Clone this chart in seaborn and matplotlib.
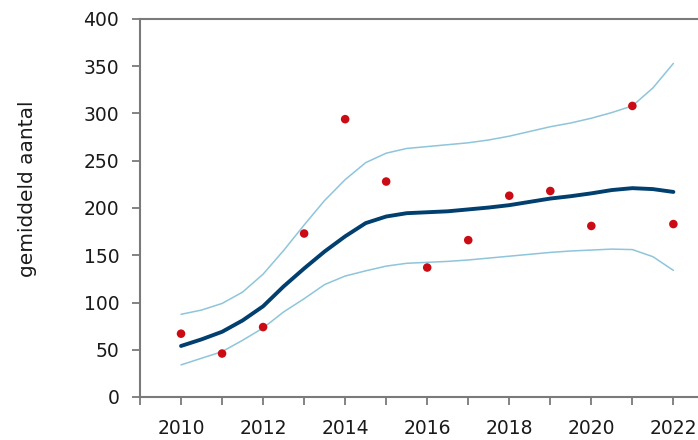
import matplotlib
matplotlib.use("Agg")
import matplotlib.pyplot as plt
import seaborn as sns
import pandas as pd

# observed yearly values (red dots)
years = [2010, 2011, 2012, 2013, 2014, 2015, 2016, 2017, 2018, 2019, 2020, 2021, 2022]
observed = [67, 46, 74, 173, 294, 228, 137, 166, 213, 218, 181, 308, 183]

# trend curve and confidence band, every half year
trend_years = [2010, 2010.5, 2011, 2011.5, 2012, 2012.5, 2013, 2013.5, 2014, 2014.5,
               2015, 2015.5, 2016, 2016.5, 2017, 2017.5, 2018, 2018.5, 2019, 2019.5,
               2020, 2020.5, 2021, 2021.5, 2022]
trend = [54, 61, 69, 81, 96, 117, 136, 154, 170, 184,
         191, 194.5, 195.5, 196.5, 198.5, 200.5, 203, 206.5, 210, 212.5,
         215.5, 219, 221, 220, 217]
upper = [87.5, 92, 99, 111, 130, 155, 182, 208, 230, 248,
         258, 263, 265, 267, 269, 272, 276, 281, 286, 290,
         295, 301, 308, 327, 353]
lower = [34, 41, 48, 60, 73, 90, 104, 119, 128, 133.5,
         138.5, 141.5, 142.5, 143.5, 145, 147, 149, 151, 153, 154.5,
         155.5, 156.5, 156, 148.5, 134]

x_ticks = list(range(2009, 2024))
x_labels = ["" if y % 2 else str(y) for y in x_ticks]
y_ticks = [0, 50, 100, 150, 200, 250, 300, 350, 400]
y_label = "gemiddeld aantal"

pts = pd.DataFrame({"jaar": years, "waarneming": observed})
curve = pd.DataFrame({"jaar": trend_years, "trend": trend, "boven": upper, "onder": lower})

sns.set_style("white")
plt.rcParams["font.family"] = ["DejaVu Sans"]

fig = plt.figure(figsize=(6.98, 4.40), dpi=100)
ax = fig.add_axes([140 / 698, 1 - 397 / 440, 1 - 140 / 698, (397 - 19) / 440])

light = "#8ec5da"
dark = "#003f6e"
red = "#cc0c14"

sns.lineplot(data=curve, x="jaar", y="boven", color=light, linewidth=1.1, ax=ax)
sns.lineplot(data=curve, x="jaar", y="onder", color=light, linewidth=1.1, ax=ax)
sns.lineplot(data=curve, x="jaar", y="trend", color=dark, linewidth=2.8, ax=ax)
sns.scatterplot(data=pts, x="jaar", y="waarneming", color=red, s=38,
                edgecolor="none", ax=ax, zorder=5)

ax.set_xticks(x_ticks)
ax.set_xticklabels(x_labels)
ax.set_yticks(y_ticks)
ax.set_xlim(2009, 2022.6)
ax.set_ylim(0, 400)
ax.set_xlabel("")
ax.set_ylabel(y_label, fontsize=14.5, color="#1a1a1a")
ax.yaxis.set_label_coords(-0.185, 0.55)

for side in ["left", "bottom", "top"]:
    ax.spines[side].set_visible(True)
    ax.spines[side].set_color("#7a7a7a")
    ax.spines[side].set_linewidth(1.5)
ax.spines["right"].set_visible(False)

ax.tick_params(axis="both", which="both", direction="out", length=6, width=1.3,
               color="#7a7a7a", labelsize=13.5, labelcolor="#1a1a1a")
ax.tick_params(axis="y", pad=9, left=True)
ax.tick_params(axis="x", pad=10, bottom=True)

fig.savefig("out.png", dpi=100)
